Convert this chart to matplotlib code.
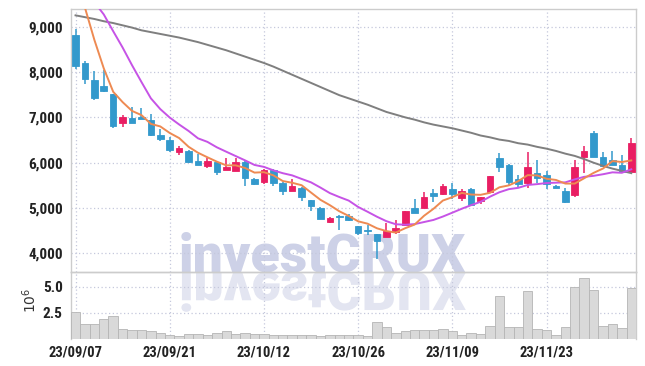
import numpy as np
import matplotlib.pyplot as plt
from matplotlib.textpath import TextPath
from matplotlib.patches import PathPatch
from matplotlib.font_manager import FontProperties
from matplotlib.transforms import Affine2D, IdentityTransform
from matplotlib.ticker import FuncFormatter

plt.rcParams['font.family'] = ['Roboto Condensed', 'Liberation Sans Narrow', 'Roboto', 'DejaVu Sans']

# tick labels (every 10 trading days)
tick_pos = [0, 10, 20, 30, 40, 50]
tick_labels = ['23/09/07', '23/09/21', '23/10/12', '23/10/26', '23/11/09', '23/11/23']

# daily OHLC
opens = [8820, 8200, 7820, 7690, 7510, 6880, 6980, 7000, 6940, 6610,
         6500, 6240, 6260, 6030, 5930, 6010, 5850, 5820, 6020, 5650,
         5580, 5850, 5560, 5380, 5450, 5170, 5010, 4700, 4820, 4820,
         4600, 4510, 4420, 4370, 4480, 4620, 5000, 5010, 5340, 5300,
         5420, 5230, 5430, 5150, 5360, 6100, 5960, 5640, 5560, 5780,
         5720, 5480, 5380, 5290, 6130, 6660, 6120, 6060, 5950, 5790]
highs = [8940, 8250, 8030, 8040, 7510, 7050, 7220, 7200, 7070, 6735,
         6570, 6370, 6280, 6190, 6100, 6010, 6100, 6110, 6030, 5660,
         5860, 5860, 5570, 5630, 5460, 5180, 5020, 4800, 4840, 4880,
         4610, 4620, 4430, 4670, 4730, 4940, 5210, 5360, 5430, 5540,
         5560, 5430, 5440, 5250, 5710, 6210, 5970, 5730, 6240, 6060,
         5810, 5500, 5450, 6060, 6370, 6700, 6240, 6260, 6170, 6540]
lows = [8060, 7735, 7380, 7570, 6760, 6780, 6870, 6960, 6600, 6480,
        6240, 6170, 6000, 5960, 5875, 5740, 5840, 5820, 5480, 5510,
        5540, 5480, 5290, 5370, 5150, 4930, 4750, 4680, 4510, 4720,
        4400, 4400, 3870, 4360, 4420, 4610, 4890, 5000, 5140, 5290,
        5210, 5160, 5060, 5090, 5350, 5790, 5480, 5450, 5450, 5560,
        5410, 5440, 5120, 5250, 5780, 6130, 5930, 5960, 5800, 5790]
closes = [8140, 7850, 7430, 7590, 6810, 7000, 6880, 6970, 6620, 6530,
          6280, 6320, 6010, 5960, 6030, 5800, 5910, 6010, 5670, 5520,
          5850, 5560, 5380, 5480, 5250, 5040, 4760, 4790, 4810, 4730,
          4450, 4500, 4280, 4500, 4570, 4930, 4900, 5250, 5270, 5480,
          5300, 5370, 5070, 5240, 5700, 5910, 5580, 5540, 5900, 5670,
          5540, 5450, 5140, 5900, 6260, 6130, 5930, 5960, 5800, 6430]

# volume, millions of shares
volume = [2.56, 1.42, 1.42, 1.88, 2.15, 0.90, 0.80, 0.80, 0.68, 0.50,
          0.37, 0.27, 0.41, 0.41, 0.31, 0.54, 0.73, 0.44, 0.50, 0.41,
          0.41, 0.35, 0.30, 0.35, 0.37, 0.37, 0.23, 0.37, 0.31, 0.35,
          0.30, 0.25, 1.58, 1.07, 0.50, 0.73, 0.80, 0.80, 0.80, 0.90,
          0.70, 0.30, 0.50, 0.42, 1.20, 4.15, 1.09, 1.09, 4.60, 0.90,
          0.80, 0.31, 1.09, 5.00, 5.88, 4.70, 1.19, 1.39, 1.00, 4.90]

# moving average lines
ma_short = [10000, 9420, 8710, 8080, 7564, 7336, 7142, 7050, 6856, 6800,
            6656, 6544, 6352, 6220, 6120, 6024, 5942, 5942, 5884, 5782,
            5792, 5722, 5596, 5558, 5504, 5342, 5182, 5064, 4930, 4826,
            4708, 4656, 4554, 4492, 4460, 4556, 4636, 4830, 4984, 5166,
            5240, 5334, 5298, 5292, 5336, 5458, 5500, 5594, 5726, 5720,
            5646, 5620, 5540, 5540, 5658, 5776, 5872, 6036, 6016, 6050]
ma_mid = [10250, 9900, 9540, 9270, 8900, 8540, 8150, 7780, 7420, 7182,
          6996, 6843, 6701, 6538, 6460, 6340, 6243, 6147, 6052, 5951,
          5908, 5832, 5769, 5721, 5643, 5567, 5452, 5330, 5244, 5165,
          5025, 4919, 4809, 4711, 4643, 4632, 4646, 4692, 4738, 4813,
          4898, 4985, 5064, 5138, 5251, 5349, 5417, 5446, 5509, 5528,
          5552, 5560, 5567, 5633, 5689, 5711, 5746, 5788, 5778, 5854]
ma_long = [9250, 9210, 9170, 9120, 9080, 9030, 8980, 8920, 8880, 8840,
           8800, 8760, 8710, 8660, 8600, 8540, 8480, 8410, 8340, 8270,
           8200, 8120, 8030, 7940, 7850, 7760, 7670, 7580, 7490, 7420,
           7350, 7280, 7200, 7120, 7060, 7000, 6950, 6890, 6840, 6800,
           6760, 6710, 6660, 6600, 6560, 6510, 6480, 6430, 6400, 6350,
           6310, 6260, 6200, 6150, 6080, 6000, 5930, 5870, 5820, 5770]

UP = '#E91E63'
DOWN = '#3399CC'
GRID = '#C5C8DC'
SPINE = '#CCCCCC'

fig = plt.figure(figsize=(6.45, 3.66), dpi=100)
ax = fig.add_axes([71/645, 94/366, 565/645, 263/366])
axv = fig.add_axes([71/645, 27.5/366, 565/645, 66.5/366], sharex=ax)

# watermark and its reflection, behind everything
fig.text(179/645, 94/366, 'investCRUX', fontsize=38.5, fontweight='heavy',
         family='Roboto', color='#CDD1E7', ha='left', va='baseline', zorder=-2)
tp = TextPath((0, 0), 'investCRUX', size=53.5,
              prop=FontProperties(family='Roboto', weight='heavy'))
refl = Affine2D().scale(1, -1).translate(179, 94).transform_path(tp)
fig.add_artist(PathPatch(refl, transform=IdentityTransform(), facecolor='#E3E5F1',
                         edgecolor='none', zorder=-2))

x = np.arange(len(closes))
o = np.array(opens)
c = np.array(closes)
up = c >= o
colors = np.where(up, UP, DOWN)
body_lo = np.minimum(o, c)
body_h = np.maximum(np.abs(c - o), 18)

ax.vlines(x, lows, highs, colors=colors, linewidth=1.1, zorder=3)
ax.bar(x, body_h, bottom=body_lo, width=0.7, color=colors, edgecolor=colors,
       linewidth=0.6, zorder=4)

ax.plot(x, ma_long, color='#7F7F7F', linewidth=1.4, zorder=5)
ax.plot(x, ma_mid, color='#C653E6', linewidth=1.4, zorder=5)
ax.plot(x, ma_short, color='#EE8A52', linewidth=1.4, zorder=6)

ax.set_xlim(-0.48, 59.5)
ax.set_ylim(3590, 9390)
ax.set_yticks([4000, 5000, 6000, 7000, 8000, 9000])
ax.yaxis.set_major_formatter(FuncFormatter(lambda v, p: f'{int(v):,}'))
ax.set_xticks(tick_pos)
ax.tick_params(axis='x', labelbottom=False, length=0)
ax.tick_params(axis='y', length=0, pad=6, labelsize=11, labelcolor='#222222')

axv.bar(x, volume, width=1.0, color='#D9D9D9', edgecolor='#B5B5B5',
        linewidth=0.6, zorder=3)
axv.set_ylim(0, 6.45)
axv.set_yticks([2.5, 5.0])
axv.set_yticklabels(['2.5', '5.0'])
axv.set_xticks(tick_pos)
axv.set_xticklabels(tick_labels)
axv.tick_params(axis='x', length=0, pad=5, labelsize=10.5, labelcolor='#222222')
axv.tick_params(axis='y', length=0, pad=6, labelsize=11, labelcolor='#222222')
fig.text(30/645, (366 - 300)/366, '$10^6$', rotation=90,
         fontsize=10, color='#333333', ha='center', va='center')

for a in (ax, axv):
    a.set_facecolor('none')
    a.grid(True, linestyle=(0, (1, 2)), color=GRID, linewidth=0.9)
    a.set_axisbelow(True)
    for s in a.spines.values():
        s.set_color(SPINE)
        s.set_linewidth(1.0)
    for lbl in a.get_xticklabels() + a.get_yticklabels():
        lbl.set_fontweight('bold')
axv.spines['bottom'].set_visible(False)

fig.savefig('out.png', dpi=100, facecolor='white')
